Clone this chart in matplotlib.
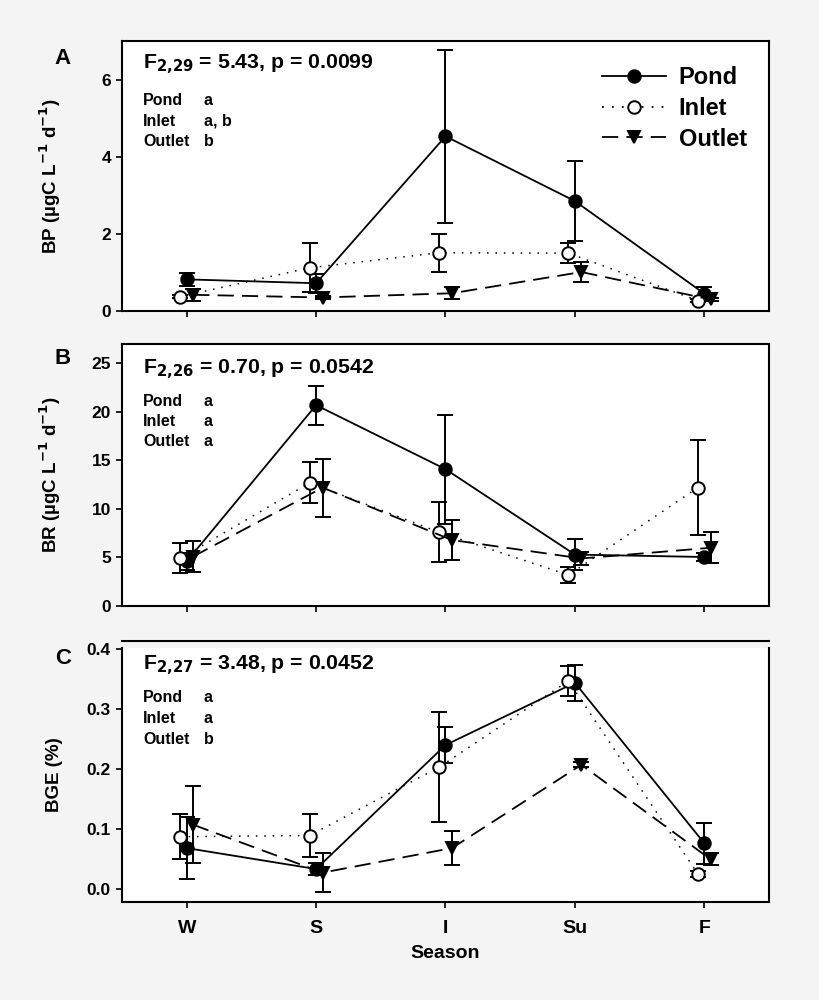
import numpy as np
import matplotlib
matplotlib.use('Agg')
import matplotlib.pyplot as plt
from matplotlib.lines import Line2D

plt.rcParams['font.family'] = ['Liberation Sans', 'DejaVu Sans']
plt.rcParams['font.weight'] = 'bold'
plt.rcParams['axes.labelweight'] = 'bold'
plt.rcParams['mathtext.default'] = 'bf'

# Data
seasons = ['W', 'S', 'I', 'Su', 'F']

bp_pond = [0.82, 0.72, 4.53, 2.85, 0.45]
bp_pond_err = [0.17, 0.25, 2.24, 1.03, 0.17]
bp_inlet = [0.37, 1.12, 1.51, 1.50, 0.27]
bp_inlet_err = [0.04, 0.63, 0.49, 0.25, 0.04]
bp_outlet = [0.42, 0.35, 0.46, 1.01, 0.30]
bp_outlet_err = [0.16, 0.05, 0.15, 0.27, 0.05]

br_pond = [4.6, 20.7, 14.1, 5.3, 5.05]
br_pond_err = [0.9, 2.0, 5.6, 1.6, 0.4]
br_inlet = [4.9, 12.7, 7.6, 3.2, 12.2]
br_inlet_err = [1.55, 2.1, 3.1, 0.8, 4.9]
br_outlet = [5.1, 12.2, 6.8, 4.9, 6.0]
br_outlet_err = [1.55, 3.0, 2.1, 0.7, 1.6]

bge_pond = [0.068, 0.033, 0.240, 0.344, 0.076]
bge_pond_err = [0.052, 0.010, 0.030, 0.030, 0.034]
bge_inlet = [0.087, 0.089, 0.203, 0.347, 0.025]
bge_inlet_err = [0.038, 0.036, 0.092, 0.025, 0.005]
bge_outlet = [0.107, 0.027, 0.068, 0.207, 0.049]
bge_outlet_err = [0.064, 0.032, 0.029, 0.004, 0.010]

stats_text = ['F$_{2{,}29}$ = 5.43, p = 0.0099',
              'F$_{2{,}26}$ = 0.70, p = 0.0542',
              'F$_{2{,}27}$ = 3.48, p = 0.0452']
site_names = ['Pond', 'Inlet', 'Outlet']
group_letters = [['a', 'a, b', 'b'], ['a', 'a', 'a'], ['a', 'a', 'b']]
ylabels = ['BP (\u00b5gC L$^{-1}$ d$^{-1}$)', 'BR (\u00b5gC L$^{-1}$ d$^{-1}$)', 'BGE (%)']
panel_letters = ['A', 'B', 'C']

panels = [
    (bp_pond, bp_pond_err, bp_inlet, bp_inlet_err, bp_outlet, bp_outlet_err),
    (br_pond, br_pond_err, br_inlet, br_inlet_err, br_outlet, br_outlet_err),
    (bge_pond, bge_pond_err, bge_inlet, bge_inlet_err, bge_outlet, bge_outlet_err),
]

# layout in pixels
W, H = 820, 1000
left_px, right_px = 122, 769
rows_px = [(41, 311), (344, 606), (648, 902)]
ylims = [(0, 7), (0, 27), (-0.022, 0.402)]
yticks = [[0, 2, 4, 6], [0, 5, 10, 15, 20, 25], [0.0, 0.1, 0.2, 0.3, 0.4]]
ytickfmt = ['{:.0f}', '{:.0f}', '{:.1f}']
letter_y = [58, 359, 658]
stat_y = [23, 25, 17]      # px below axes top
rows_y = [60, 57, 50]      # px below axes top, first letters row

fig = plt.figure(figsize=(8.2, 10), dpi=100, facecolor='#f4f4f4')

x = np.arange(1, 6)
styles = [
    dict(ls='-', marker='o', mfc='black', mec='black', dx=0.0),
    dict(ls=(0, (1, 4.5)), marker='o', mfc='white', mec='black', dx=-0.05),
    dict(ls=(0, (9, 4.5)), marker='v', mfc='black', mec='black', dx=0.05),
]

axes = []
for i, data in enumerate(panels):
    top, bot = rows_px[i]
    hpx = bot - top
    ax = fig.add_axes([left_px / W, 1 - bot / H, (right_px - left_px) / W, hpx / H])
    ax.set_facecolor('white')
    for k in range(3):
        vals = data[2 * k]
        errs = data[2 * k + 1]
        st = styles[k]
        lw = 1.3 if k != 1 else 1.1
        ax.errorbar(x + st['dx'], vals, yerr=errs, fmt='none', ecolor='black',
                    elinewidth=1.4, capsize=6, capthick=1.4, zorder=2)
        ax.plot(x + st['dx'], vals, color='black', ls=st['ls'], lw=lw,
                marker=st['marker'], ms=9, mfc=st['mfc'], mec=st['mec'],
                mew=1.4, zorder=3)
    ax.set_xlim(0.5, 5.5)
    ax.set_ylim(*ylims[i])
    ax.set_yticks(yticks[i])
    ax.set_yticklabels([ytickfmt[i].format(v) for v in yticks[i]])
    ax.set_xticks(x)
    ax.tick_params(axis='y', labelsize=12.5, length=4, width=1.2, pad=4)
    ax.tick_params(axis='x', labelsize=14, length=4, width=1.2, pad=9)
    if i == 2:
        ax.set_xticklabels(seasons)
        ax.set_xlabel('Season', fontsize=14, labelpad=6)
    else:
        ax.set_xticklabels([])
    for sp in ax.spines.values():
        sp.set_linewidth(1.5)
    if i == 2:
        ax.spines['top'].set_position(('outward', 5))
    ax.set_ylabel(ylabels[i], fontsize=13.5)
    ax.yaxis.set_label_coords(-0.091, 0.5)

    # stats text
    ax.text(21 / 647, 1 - stat_y[i] / hpx, stats_text[i], transform=ax.transAxes,
            fontsize=15.3, va='center', ha='left')
    for r in range(3):
        yy = 1 - (rows_y[i] + 20.5 * r) / hpx
        ax.text(21 / 647, yy, site_names[r], transform=ax.transAxes,
                fontsize=11.5, va='center', ha='left')
        ax.text(82 / 647, yy, group_letters[i][r], transform=ax.transAxes,
                fontsize=11.5, va='center', ha='left')

    fig.text(63 / W, 1 - letter_y[i] / H, panel_letters[i], fontsize=16,
             ha='center', va='center')
    axes.append(ax)

# legend in panel A
handles = []
for k in range(3):
    st = styles[k]
    handles.append(Line2D([], [], color='black', ls=st['ls'], lw=1.3,
                          marker=st['marker'], ms=9, mfc=st['mfc'],
                          mec=st['mec'], mew=1.4))
leg = axes[0].legend(handles, site_names, loc='upper left', frameon=False,
                     fontsize=17, handlelength=2.7, handletextpad=0.55,
                     labelspacing=0.33, borderpad=0, borderaxespad=0,
                     bbox_to_anchor=((602 - left_px) / 647, 1 - (66 - 41) / 270))

fig.savefig('out.png', dpi=100, facecolor=fig.get_facecolor())
